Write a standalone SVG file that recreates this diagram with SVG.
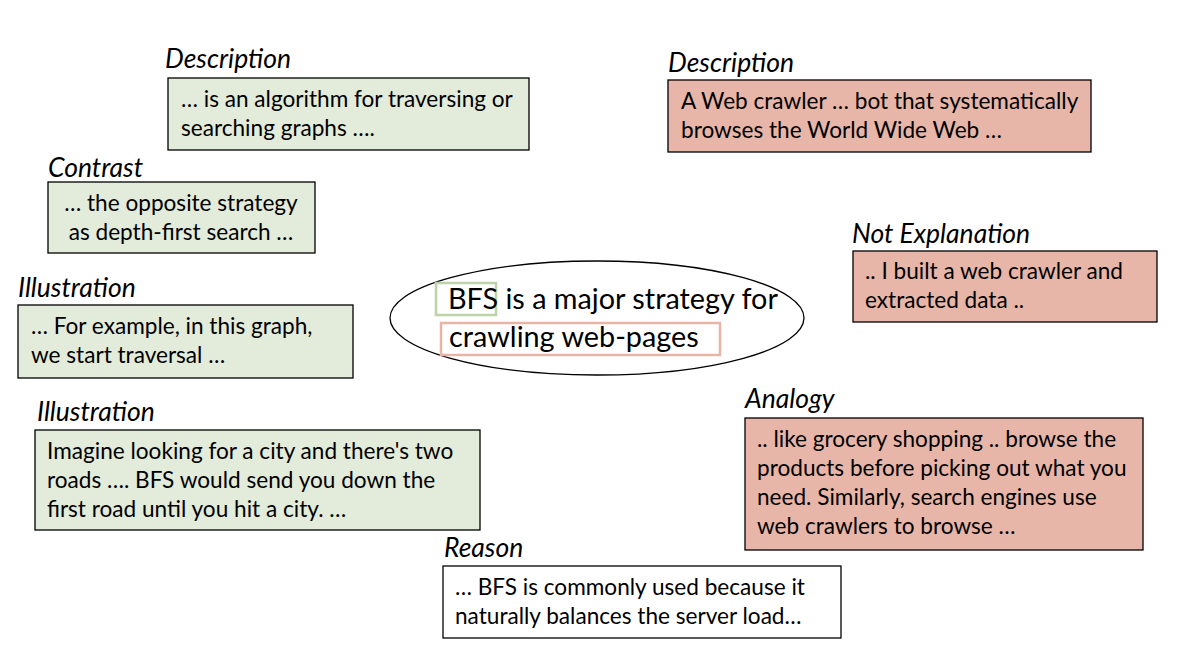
<svg xmlns="http://www.w3.org/2000/svg" width="1186" height="652" viewBox="0 0 1186 652">
<style>
.lbl{font-family:Lato,"Liberation Sans",sans-serif;font-style:italic;font-size:26.5px;fill:#000}
.t{font-family:Lato,"Liberation Sans",sans-serif;font-size:22.6px;fill:#000}
.big{font-family:Lato,"Liberation Sans",sans-serif;font-size:28.8px;fill:#000}
.g{fill:#e3ebda;stroke:#000;stroke-width:1.3}
.r{fill:#e7b6a8;stroke:#000;stroke-width:1.3}
.w{fill:#fff;stroke:#000;stroke-width:1.3}
</style>
<rect width="1186" height="652" fill="#fff"/>
<g id="center">
<ellipse cx="597" cy="318" rx="207" ry="57" fill="#fff" stroke="#000" stroke-width="1.3"/>
<rect x="436" y="283" width="60" height="32" fill="none" stroke="#bcd4a8" stroke-width="2.5"/>
<rect x="441" y="323" width="279" height="32" fill="none" stroke="#e9b4a6" stroke-width="2.5"/>
<text class="big" x="448" y="309">BFS is a major strategy for</text>
<text class="big" x="449" y="347">crawling web-pages</text>
</g>
<g id="desc-green">
<text class="lbl" x="165" y="68">Description</text>
<rect class="g" x="168" y="78" width="361" height="72"/>
<text class="t" x="181" y="107">… is an algorithm for traversing or</text>
<text class="t" x="181" y="136">searching graphs ….</text>
</g>
<g id="desc-red">
<text class="lbl" x="668" y="72">Description</text>
<rect class="r" x="668" y="80" width="423" height="72"/>
<text class="t" x="681" y="109">A Web crawler … bot that systematically</text>
<text class="t" x="681" y="138">browses the World Wide Web …</text>
</g>
<g id="contrast">
<text class="lbl" x="48" y="177">Contrast</text>
<rect class="g" x="48" y="182" width="267" height="71"/>
<text class="t" x="181" y="211" text-anchor="middle">… the opposite strategy</text>
<text class="t" x="181" y="240" text-anchor="middle">as depth-first search …</text>
</g>
<g id="illustration1">
<text class="lbl" x="18" y="297">Illustration</text>
<rect class="g" x="18" y="305" width="335" height="73"/>
<text class="t" x="31" y="334">… For example, in this graph,</text>
<text class="t" x="31" y="363">we start traversal …</text>
</g>
<g id="illustration2">
<text class="lbl" x="37" y="421">Illustration</text>
<rect class="g" x="35" y="430" width="445" height="100"/>
<text class="t" x="47" y="459">Imagine looking for a city and there's two</text>
<text class="t" x="47" y="488">roads …. BFS would send you down the</text>
<text class="t" x="47" y="517">first road until you hit a city. …</text>
</g>
<g id="not-explanation">
<text class="lbl" x="852" y="243">Not Explanation</text>
<rect class="r" x="853" y="251" width="304" height="71"/>
<text class="t" x="865" y="279">.. I built a web crawler and</text>
<text class="t" x="865" y="308">extracted data ..</text>
</g>
<g id="analogy">
<text class="lbl" x="745" y="408">Analogy</text>
<rect class="r" x="745" y="418" width="398" height="132"/>
<text class="t" x="757" y="447">.. like grocery shopping .. browse the</text>
<text class="t" x="757" y="476">products before picking out what you</text>
<text class="t" x="757" y="505">need. Similarly, search engines use</text>
<text class="t" x="757" y="534">web crawlers to browse …</text>
</g>
<g id="reason">
<text class="lbl" x="444" y="557">Reason</text>
<rect class="w" x="443" y="566" width="398" height="72"/>
<text class="t" x="455" y="595">… BFS is commonly used because it</text>
<text class="t" x="455" y="624">naturally balances the server load…</text>
</g>
<g id="connectors"></g>
</svg>
